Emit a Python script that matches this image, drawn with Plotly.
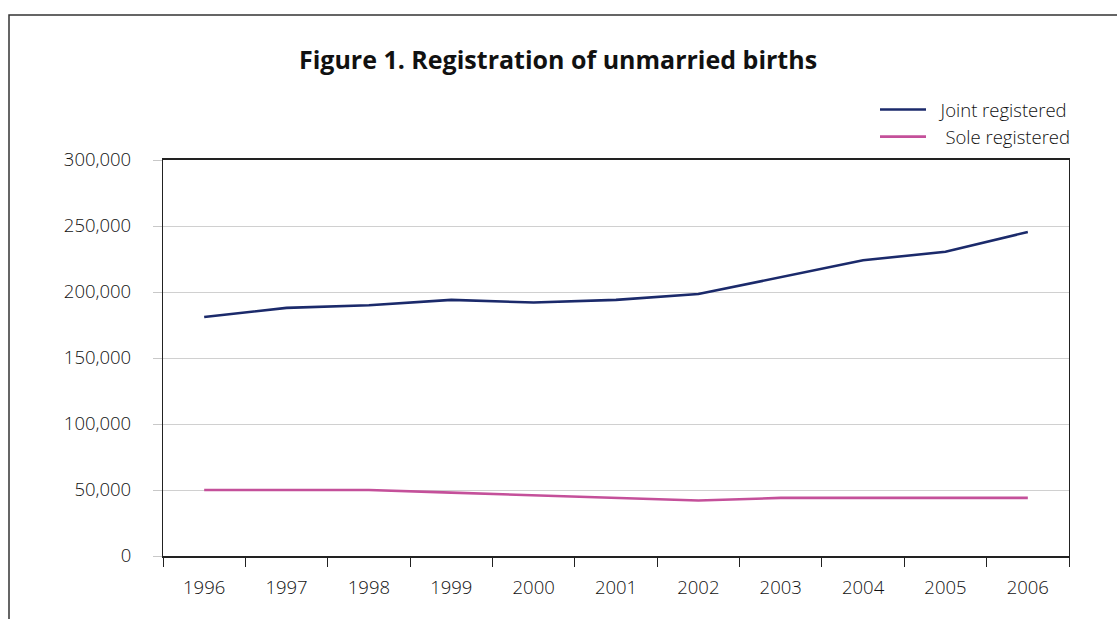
import plotly.graph_objects as go

years = ["1996", "1997", "1998", "1999", "2000", "2001", "2002", "2003", "2004", "2005", "2006"]
joint_registered = [181000, 188000, 190000, 194000, 192000, 194000, 198500, 211500, 224000, 230500, 245500]
sole_registered = [50000, 50000, 50000, 48000, 46000, 44000, 42000, 44000, 44000, 44000, 44000]
y_ticks = [0, 50000, 100000, 150000, 200000, 250000, 300000]
series_names = ["\u00a0\u00a0Joint registered", "\u00a0\u00a0\u00a0Sole registered"]

FONT = "Open Sans"

fig = go.Figure()
fig.add_trace(go.Scatter(x=years, y=joint_registered, mode="lines", name=series_names[0],
                         line=dict(color="#1b2a6b", width=2.6)))
fig.add_trace(go.Scatter(x=years, y=sole_registered, mode="lines", name=series_names[1],
                         line=dict(color="#c4509a", width=2.6)))

L, R, T, B = 163, 48, 160, 63
W, H = 1117, 619
pw, ph = W - L - R, H - T - B

def px_x(x):
    return (x - L) / pw

def px_y(y):
    return (H - B - y) / ph

fig.update_layout(
    width=W, height=H,
    margin=dict(l=L, r=R, t=T, b=B, autoexpand=False),
    paper_bgcolor="white", plot_bgcolor="white",
    font=dict(family=FONT, size=18.5, color="#111111", weight=300),
    title=dict(text="<b>Figure 1. Registration of unmarried births</b>",
               x=px_x(558), xref="paper", xanchor="center",
               y=1 - 60 / H, yanchor="middle",
               font=dict(size=25, color="#111111", weight=700)),
    showlegend=True,
    legend=dict(x=px_x(1076), xanchor="right", y=px_y(91), yanchor="top",
                bgcolor="rgba(0,0,0,0)", font=dict(size=18.5, color="#111111"),
                itemwidth=46, tracegroupgap=0),
    xaxis=dict(type="category", range=[-0.5, 10.5], showgrid=False,
               showline=True, linecolor="#222222", linewidth=1.5, mirror=True,
               ticks="outside", tickson="boundaries", ticklen=9, tickcolor="#222222",
               tickwidth=1.2, ticklabelstandoff=14),
    yaxis=dict(range=[0, 300000], tickvals=y_ticks, tickformat=",",
               showgrid=True, gridcolor="#d0d0d0", gridwidth=1.3, zeroline=False,
               showline=True, linecolor="#222222", linewidth=1.2, mirror=True,
               ticks="outside", ticklen=9, tickcolor="#c8c8c8", tickwidth=1.3,
               ticklabelstandoff=18),
)

fig.add_shape(type="rect", xref="paper", yref="paper",
              x0=px_x(9), x1=px_x(1135), y0=px_y(640), y1=px_y(15),
              line=dict(color="#333333", width=1.5), fillcolor="rgba(0,0,0,0)", layer="below")

fig.write_html("out.html", config={"displayModeBar": False},
               post_script="document.body.style.margin='0px';")
